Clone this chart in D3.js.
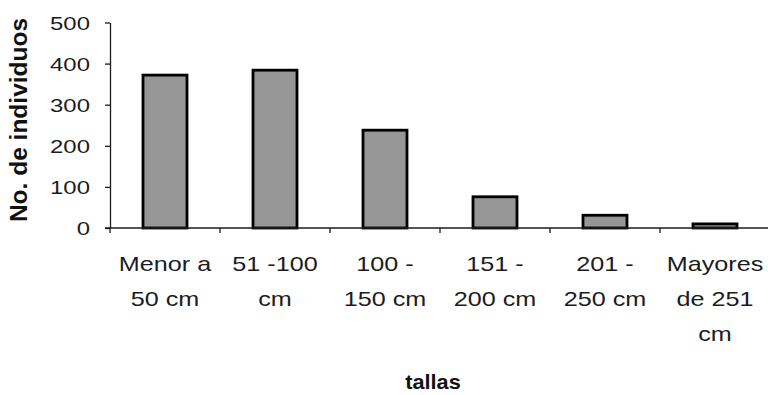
<!DOCTYPE html>
<html>
<head>
<meta charset="utf-8">
<script src="https://cdn.jsdelivr.net/npm/d3@7"></script>
<style>
  html, body { margin: 0; padding: 0; background: #ffffff; }
  svg { display: block; font-family: Arial, "Liberation Sans", sans-serif; }
</style>
</head>
<body>
<svg id="chart" width="768" height="395"></svg>
<script>
// Size classes (each label split into its printed lines)
const categories = ["Menor a 50 cm", "51 -100 cm", "100 - 150 cm", "151 - 200 cm", "201 - 250 cm", "Mayores de 251 cm"];
const categoryLines = [
  ["Menor a", "50 cm"],
  ["51 -100", "cm"],
  ["100 -", "150 cm"],
  ["151 -", "200 cm"],
  ["201 -", "250 cm"],
  ["Mayores", "de 251", "cm"]
];
// Number of individuals per size class
const individuos = [372, 384, 238, 76, 31, 10];
const yTicks = [0, 100, 200, 300, 400, 500];

const svg = d3.select("#chart");
const plot = { left: 110, right: 770, top: 22.5, bottom: 228 };
const wide = 1.26; // horizontal widening of the label lettering
const ink = "#1c1c1c";

const x = d3.scaleBand()
  .domain(categories)
  .range([plot.left, plot.right])
  .paddingInner(0.6)
  .paddingOuter(0.3);

const y = d3.scaleLinear()
  .domain([0, 500])
  .range([plot.bottom, plot.top]);

// Bars
svg.append("g")
  .selectAll("rect")
  .data(categories)
  .join("rect")
  .attr("x", d => x(d))
  .attr("y", (d, i) => y(individuos[i]))
  .attr("width", x.bandwidth())
  .attr("height", (d, i) => y(0) - y(individuos[i]))
  .attr("fill", "#969696")
  .attr("stroke", "#000")
  .attr("stroke-width", 2.8);

// Y axis
const yAxis = svg.append("g")
  .attr("transform", `translate(${plot.left},0)`)
  .call(d3.axisLeft(y).tickValues(yTicks).tickSize(5).tickSizeOuter(0));
yAxis.select(".domain").attr("stroke", ink).attr("stroke-width", 1.3);
yAxis.selectAll(".tick line").attr("stroke", ink).attr("stroke-width", 1.3);
yAxis.selectAll(".tick text")
  .attr("x", -20 / wide)
  .attr("dy", "0.36em")
  .attr("transform", `scale(${wide},1)`)
  .attr("font-size", 19)
  .attr("fill", ink);

// X axis: line with ticks on category boundaries
const boundaries = d3.range(categories.length + 1).map(i => plot.left + i * x.step());
svg.append("line")
  .attr("x1", plot.left - 5).attr("x2", plot.right)
  .attr("y1", plot.bottom).attr("y2", plot.bottom)
  .attr("stroke", ink).attr("stroke-width", 1.3);
svg.append("g")
  .selectAll("line")
  .data(boundaries)
  .join("line")
  .attr("x1", d => d).attr("x2", d => d)
  .attr("y1", plot.bottom).attr("y2", plot.bottom + 5)
  .attr("stroke", ink).attr("stroke-width", 1.3);

// Category labels
const labels = svg.append("g")
  .selectAll("text")
  .data(categories)
  .join("text")
  .attr("transform", d => `translate(${x(d) + x.bandwidth() / 2},0) scale(${wide},1)`)
  .attr("text-anchor", "middle")
  .attr("font-size", 20)
  .attr("fill", ink);
labels.each(function (d, i) {
  d3.select(this).selectAll("tspan")
    .data(categoryLines[i])
    .join("tspan")
    .attr("x", 0)
    .attr("y", (t, j) => 271 + j * 35)
    .text(t => t);
});

// Axis titles
svg.append("text")
  .attr("transform", `translate(433,389) scale(1.06,1)`)
  .attr("text-anchor", "middle")
  .attr("font-size", 20.5)
  .attr("font-weight", "bold")
  .attr("fill", "#111")
  .text("tallas");

svg.append("text")
  .attr("transform", `translate(27,120) rotate(-90)`)
  .attr("text-anchor", "middle")
  .attr("font-size", 24.5)
  .attr("font-weight", "bold")
  .attr("fill", "#111")
  .text("No. de individuos");
</script>
</body>
</html>
